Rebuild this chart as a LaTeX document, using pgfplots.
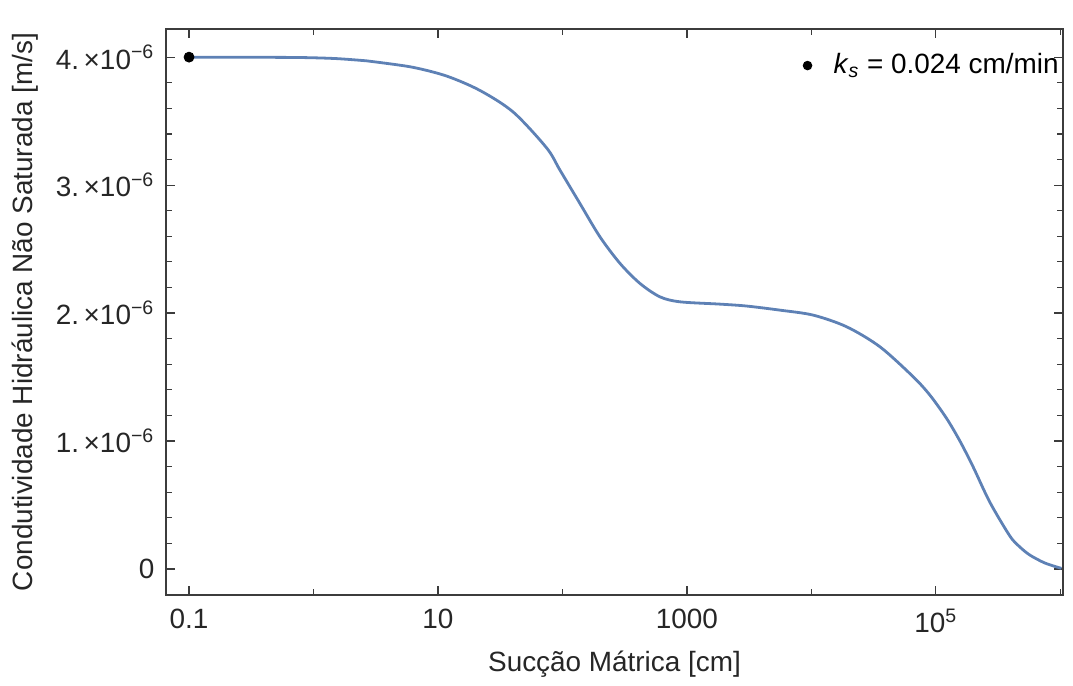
\documentclass[border=0pt]{standalone}
\usepackage{fontspec}
\setmainfont{Liberation Sans}
\usepackage{pgfplots}
\pgfplotsset{compat=1.18}
\definecolor{mblue}{RGB}{94,129,181}
\definecolor{fr}{RGB}{60,60,60}
\begin{document}
\fontsize{14}{16}\selectfont
\begin{tikzpicture}
\begin{axis}[name=ax, scale only axis, width=448.5bp, height=283bp,
  xmode=log, xmin=0.0653, xmax=1.05e6, ymin=-0.203e-6, ymax=4.22e-6,
  xtick={0.1,10,1000,1e5},
  xticklabels={0.1,10,1000,10\textsuperscript{5}},
  minor xtick={1,100,1e4,1e6},
  ytick={0,1e-6,2e-6,3e-6,4e-6},
  yticklabels={0,{1.\,×10\textsuperscript{−6}},{2.\,×10\textsuperscript{−6}},{3.\,×10\textsuperscript{−6}},{4.\,×10\textsuperscript{−6}}},
  minor y tick num=4,
  scaled y ticks=false,
  tick align=inside,
  major tick length=4.5bp, minor tick length=2.8bp,
  axis line style={fr, line width=0.7bp},
  every tick/.style={fr, line width=0.6bp},
  ticklabel style={font=\fontsize{14}{16}\selectfont, text=black!85},
  xticklabel style={yshift=-2bp},
  yticklabel style={xshift=-1bp},
  xlabel={Sucção Mátrica [cm]},
  ylabel={Condutividade Hidráulica Não Saturada [m/s]},
  label style={font=\fontsize{14}{16}\selectfont, text=black!85},
  xlabel style={at={([yshift=-34.5bp]axis description cs:0.5,0)}, anchor=center},
  ylabel style={at={([xshift=-70.5bp]axis description cs:0,0.5)}, anchor=center, rotate=0},
  legend style={draw=none, fill=none, at={(rel axis cs:1,1)}, anchor=north east, xshift=3bp, yshift=-8bp, font=\fontsize{14}{16}\selectfont},
  legend cell align=left,
  legend image code/.code={\path[draw=none, fill=none] (-2bp,0) -- (11bp,0); \fill[black, draw=none] (0,0) circle (2.4bp);},
]
\addplot[mblue, line width=1.4bp, smooth, tension=0.5, forget plot] coordinates {
(0.1,4.000e-6)
(0.3,3.999e-6)
(0.78,3.997e-6)
(1.5,3.989e-6)
(2.67,3.971e-6)
(3.42,3.958e-6)
(6.33,3.920e-6)
(11.75,3.852e-6)
(21.7,3.740e-6)
(40.3,3.570e-6)
(74.7,3.290e-6)
(95.5,3.117e-6)
(138,2.857e-6)
(200,2.596e-6)
(290,2.388e-6)
(419,2.232e-6)
(607,2.127e-6)
(879,2.088e-6)
(1841,2.070e-6)
(3016,2.055e-6)
(5585,2.023e-6)
(10330,1.984e-6)
(19190,1.893e-6)
(35480,1.737e-6)
(65770,1.502e-6)
(89500,1.359e-6)
(1.219e5,1.177e-6)
(1.56e5,1.000e-6)
(1.995e5,0.797e-6)
(2.71e5,0.523e-6)
(3.93e5,0.258e-6)
(4.73e5,0.172e-6)
(5.69e5,0.109e-6)
(7.51e5,0.047e-6)
(1.02e6,0.005e-6)
};
\addplot[only marks, mark=*, mark size=2.5bp, black, mark options={draw=black, fill=black}] coordinates {(0.1,4.0e-6)};
\addlegendentry{\textit{k}\textsubscript{\textit{s}} = 0.024 cm/min}
\end{axis}
\pgfresetboundingbox
\path ([xshift=-83bp,yshift=-45.5bp]ax.south west) rectangle ([xshift=5bp,yshift=14.5bp]ax.north east);
\end{tikzpicture}
\end{document}
